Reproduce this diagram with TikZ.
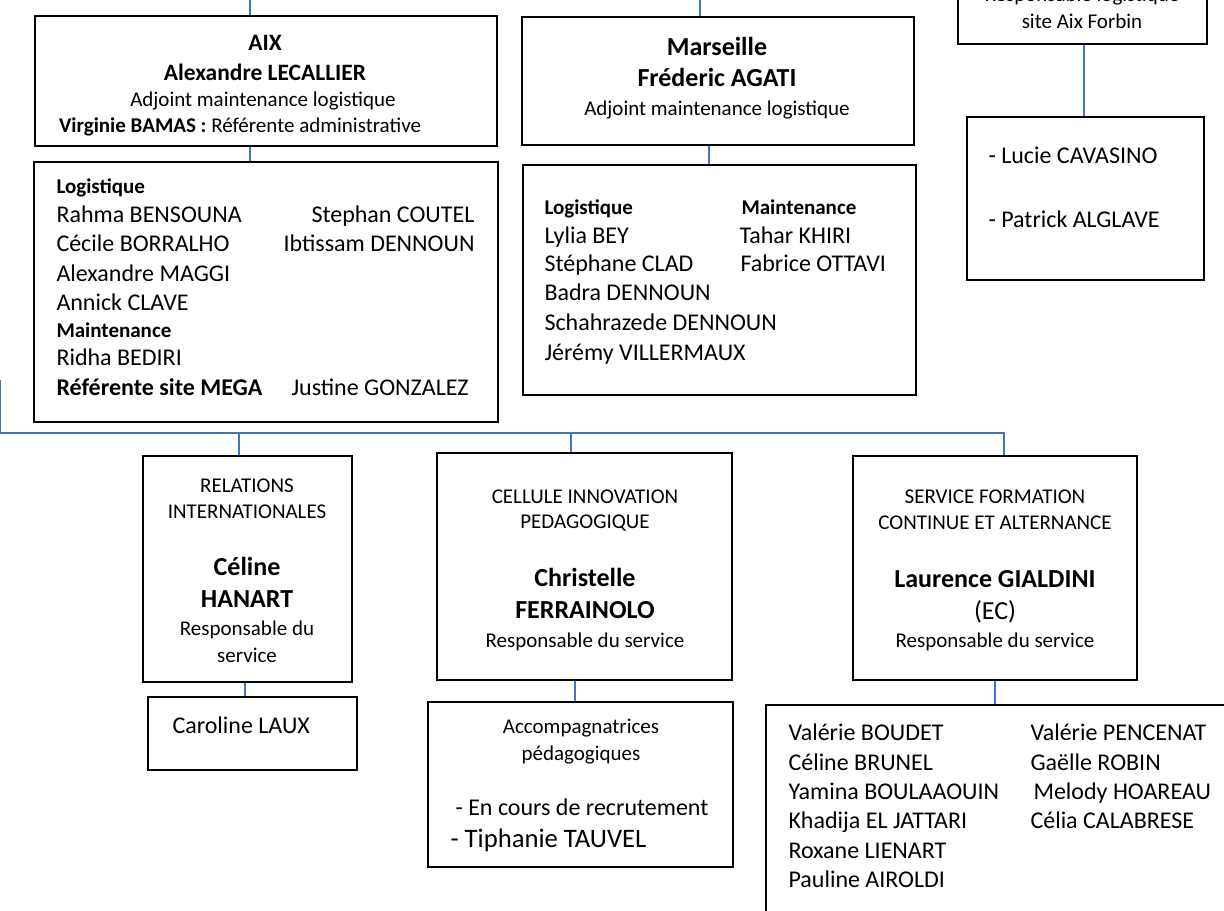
\documentclass[tikz,border=0pt]{standalone}
\usepackage{fontspec}
\setmainfont{Carlito}
\usetikzlibrary{fit}
\definecolor{linkblue}{RGB}{68,114,196}
\tikzset{every picture/.style={line width=0.75pt}}
\tikzset{
  box/.style={draw, line width=2pt, inner sep=0pt},
  link/.style={draw=linkblue, line width=1.2pt},
  head/.style={anchor=base, inner sep=0pt, font=\fontsize{15.75}{18}\selectfont},
  chief/.style={anchor=base, inner sep=0pt, font=\bfseries\fontsize{19.5}{22}\selectfont},
  member/.style={anchor=base west, inner sep=0pt, font=\fontsize{18}{21}\selectfont},
  team/.style={anchor=base west, inner sep=0pt, font=\bfseries\fontsize{15.75}{18}\selectfont},
}

\begin{document}
\begin{tikzpicture}[x=0.75pt,y=0.75pt,yscale=-1,xscale=1]
\useasboundingbox (0,0) rectangle (1224,910);
\clip (0,0) rectangle (1224,910);

%Shape: Rectangle [aix]
\node [box, fit={(35,16) (497,146)}] (aix) {};
%Shape: Rectangle [aixstaff]
\node [box, fit={(34,162) (498,422)}] (aixstaff) {};
%Shape: Rectangle [mrs]
\node [box, fit={(522,17) (914,145)}] (mrs) {};
%Shape: Rectangle [mrsstaff]
\node [box, fit={(523,165) (916,395)}] (mrsstaff) {};
%Shape: Rectangle [forbin]
\node [box, fit={(958,-40) (1207,44)}] (forbin) {};
%Shape: Rectangle [forbinstaff]
\node [box, fit={(967,117) (1204,280)}] (forbinstaff) {};
%Shape: Rectangle [relint]
\node [box, fit={(143,456) (352,682)}] (relint) {};
%Shape: Rectangle [relstaff]
\node [box, fit={(148,697) (357,770)}] (relstaff) {};
%Shape: Rectangle [cip]
\node [box, fit={(437,453) (732,680)}] (cip) {};
%Shape: Rectangle [cipstaff]
\node [box, fit={(428,702) (733,867)}] (cipstaff) {};
%Shape: Rectangle [sfc]
\node [box, fit={(853,456) (1137,680)}] (sfc) {};
%Shape: Rectangle [sfcstaff]
\node [box, fit={(766,705) (1260,960)}] (sfcstaff) {};

%Straight Lines
\coordinate (aixline) at (250,0);
\draw [link] (aixline) -- (aixline |- aix.north);
\draw [link] (aix.south -| aixline) -- (aixstaff.north -| aixline);
\coordinate (mrsline) at (700,0);
\draw [link] (mrsline) -- (mrsline |- mrs.north);
\coordinate (mrsdown) at (709,0);
\draw [link] (mrs.south -| mrsdown) -- (mrsstaff.north -| mrsdown);
\coordinate (forbinline) at (1084,0);
\draw [link] (forbin.south -| forbinline) -- (forbinstaff.north -| forbinline);
%Straight Lines [bus]
\coordinate (busup) at (0,380);
\coordinate (busW) at (0,433);
\coordinate (busE) at (1004,433);
\coordinate (relx) at (239,433);
\coordinate (cipx) at (571,433);
\draw [link] (busup) -- (busW) -- (busE) -- (busE |- sfc.north);
\draw [link] (relx) -- (relx |- relint.north);
\draw [link] (cipx) -- (cipx |- cip.north);
\coordinate (reldown) at (245,0);
\draw [link] (relint.south -| reldown) -- (relstaff.north -| reldown);
\coordinate (cipdown) at (575,0);
\draw [link] (cip.south -| cipdown) -- (cipstaff.north -| cipdown);
\coordinate (sfcdown) at (995,0);
\draw [link] (sfc.south -| sfcdown) -- (sfcstaff.north -| sfcdown);

% Text Node [aix]
\node [chief, font=\bfseries\fontsize{17.6}{20}\selectfont] (aixT) at (265,50) {AIX};
\node [chief, font=\bfseries\fontsize{17.6}{20}\selectfont] (aixN) at (265,80) {Alexandre LECALLIER};
\node [head] (aixR) at (263,106) {Adjoint maintenance logistique};
\node [head] (aixV) at (240,132) {\textbf{Virginie BAMAS :} Référente administrative};

% Text Node [aixstaff]
\node [team] (aixL) at (56,193) {Logistique};
\node [member] (aixs1) at (56,222) {Rahma BENSOUNA};
\node [member] (aixs2) at (311,222) {Stephan COUTEL};
\node [member] (aixs3) at (56,251) {Cécile BORRALHO};
\node [member] (aixs4) at (283,251) {Ibtissam DENNOUN};
\node [member] (aixs5) at (56,281) {Alexandre MAGGI};
\node [member] (aixs6) at (56,310) {Annick CLAVE};
\node [team] (aixM) at (56,337) {Maintenance};
\node [member] (aixs7) at (56,365) {Ridha BEDIRI};
\node [member, font=\bfseries\fontsize{18}{21}\selectfont] (aixmega) at (56,395) {Référente site MEGA};
\node [member] (aixs8) at (291,395) {Justine GONZALEZ};

% Text Node [mrs]
\node [chief] (mrsT) at (717,55) {Marseille};
\node [chief] (mrsN) at (717,86) {Fréderic AGATI};
\node [head] (mrsR) at (717,115) {Adjoint maintenance logistique};

% Text Node [mrsstaff]
\node [team] (mrsL) at (544,214) {Logistique};
\node [team] (mrsM) at (741,214) {Maintenance};
\node [member] (mrss1) at (544,243) {Lylia BEY};
\node [member] (mrss2) at (739,243) {Tahar KHIRI};
\node [member] (mrss3) at (544,271) {Stéphane CLAD};
\node [member] (mrss4) at (740,271) {Fabrice OTTAVI};
\node [member] (mrss5) at (544,300) {Badra DENNOUN};
\node [member] (mrss6) at (544,330) {Schahrazede DENNOUN};
\node [member] (mrss7) at (544,360) {Jérémy VILLERMAUX};

% Text Node [forbin]
\node [head] (forbinR) at (1082,2) {Responsable logistique};
\node [head] (forbinS) at (1082,28) {site Aix Forbin};
\node [member] (forbins1) at (988,163) {- Lucie CAVASINO};
\node [member] (forbins2) at (988,227) {- Patrick ALGLAVE};

% Text Node [relint]
\node [head] (relT1) at (247,492) {RELATIONS};
\node [head] (relT2) at (247,518) {INTERNATIONALES};
\node [chief] (relN1) at (247,575) {Céline};
\node [chief] (relN2) at (247,607) {HANART};
\node [head] (relR1) at (247,635) {Responsable du};
\node [head] (relR2) at (247,662) {service};
\node [member] (rels1) at (172,733) {Caroline LAUX};

% Text Node [cip]
\node [head] (cipT1) at (585,503) {CELLULE INNOVATION};
\node [head] (cipT2) at (585,528) {PEDAGOGIQUE};
\node [chief] (cipN1) at (585,586) {Christelle};
\node [chief] (cipN2) at (585,618) {FERRAINOLO};
\node [head] (cipR) at (585,647) {Responsable du service};
\node [head] (cipA1) at (581,733) {Accompagnatrices};
\node [head] (cipA2) at (581,760) {pédagogiques};
\node [member] (cips1) at (455,815) {- En cours de recrutement};
\node [member, font=\fontsize{20}{23}\selectfont] (cips2) at (450,847) {- Tiphanie TAUVEL};

% Text Node [sfc]
\node [head] (sfcT1) at (995,503) {SERVICE FORMATION};
\node [head] (sfcT2) at (995,529) {CONTINUE ET ALTERNANCE};
\node [chief] (sfcN) at (995,587) {Laurence GIALDINI};
\node [chief, font=\fontsize{19.5}{22}\selectfont] (sfcE) at (995,619) {(EC)};
\node [head] (sfcR) at (995,647) {Responsable du service};

% Text Node [sfcstaff]
\node [member] (sfcs1) at (788,740) {Valérie BOUDET};
\node [member] (sfcs2) at (788,770) {Céline BRUNEL};
\node [member] (sfcs3) at (788,799) {Yamina BOULAAOUIN};
\node [member] (sfcs4) at (788,828) {Khadija EL JATTARI};
\node [member] (sfcs5) at (788,858) {Roxane LIENART};
\node [member] (sfcs6) at (788,887) {Pauline AIROLDI};
\node [member] (sfcs7) at (1030,740) {Valérie PENCENAT};
\node [member] (sfcs8) at (1030,770) {Gaëlle ROBIN};
\node [member] (sfcs9) at (1033,799) {Melody HOAREAU};
\node [member] (sfcs10) at (1030,828) {Célia CALABRESE};

\end{tikzpicture}
\end{document}
